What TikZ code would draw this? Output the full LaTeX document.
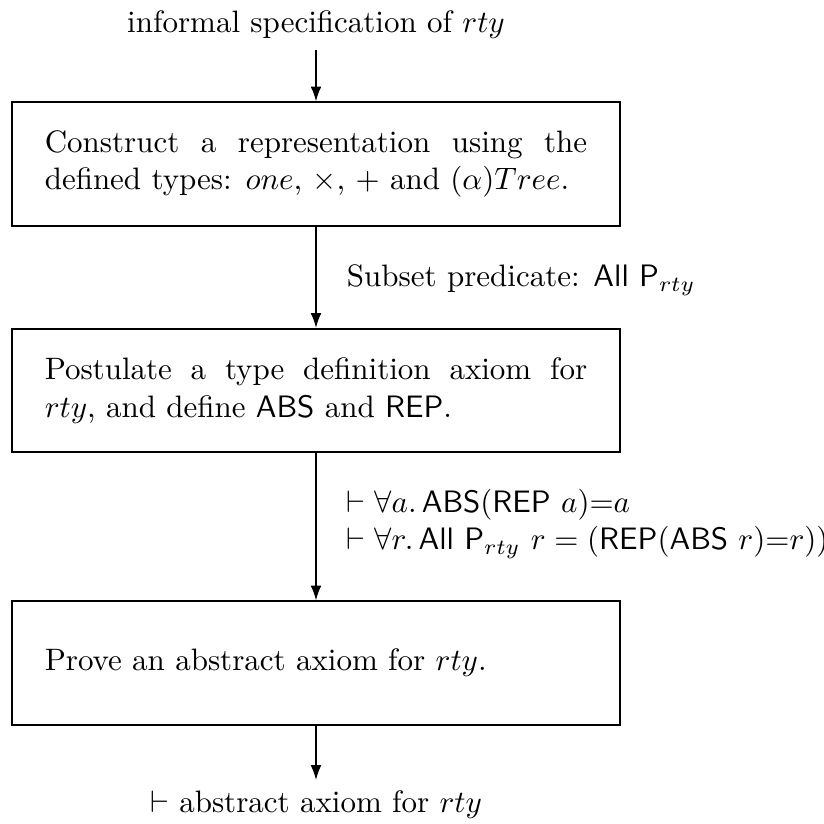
\documentclass[tikz,border=0pt]{standalone}
\usepackage{amsmath}
\usetikzlibrary{arrows.meta}
\tikzset{
  stepbox/.style={draw, line width=0.65pt, rectangle, minimum width=196pt, minimum height=39.7pt,
    text width=175pt, align=justify, inner xsep=10.5pt},
  flow/.style={line width=0.55pt, -{Latex[length=4.8pt,width=3.5pt]}},
}
\begin{document}
\begin{tikzpicture}[x=0.3226pt, y=-0.3226pt]
   \useasboundingbox (0,0) rectangle (824,823);
   \node (spec) at (316,25) {informal specification of $rty$};
   \node[stepbox] (construct) at (316,164) {Construct a representation using the\linebreak defined types: $one$, $\times$, $+$ and $(\alpha)Tree$.};
   \node[stepbox] (postulate) at (316,390.5) {Postulate a type definition axiom for\linebreak $rty$, and define $\mathsf{ABS}$ and $\mathsf{REP}$.};
   \node[stepbox] (prove) at (316,663) {Prove an abstract axiom for $rty$.};
   \node (result) at (316,805) {$\vdash$ abstract axiom for $rty$};
   \draw[flow] (spec) -- (construct);
   \draw[flow] (construct) -- (postulate);
   \draw[flow] (postulate) -- (prove);
   \draw[flow] (prove) -- (result);
   \node[anchor=west] (subset) at (336,280) {Subset predicate: $\mathsf{All}\ \mathsf{P}_{rty}$};
   \node[anchor=west, align=left] (thms) at (336,524) {$\vdash \forall a.\, \mathsf{ABS}(\mathsf{REP}\ a){=}a$\\
     $\vdash \forall r.\, \mathsf{All}\ \mathsf{P}_{rty}\ r = (\mathsf{REP}(\mathsf{ABS}\ r){=}r))$};
 \end{tikzpicture}
\end{document}
